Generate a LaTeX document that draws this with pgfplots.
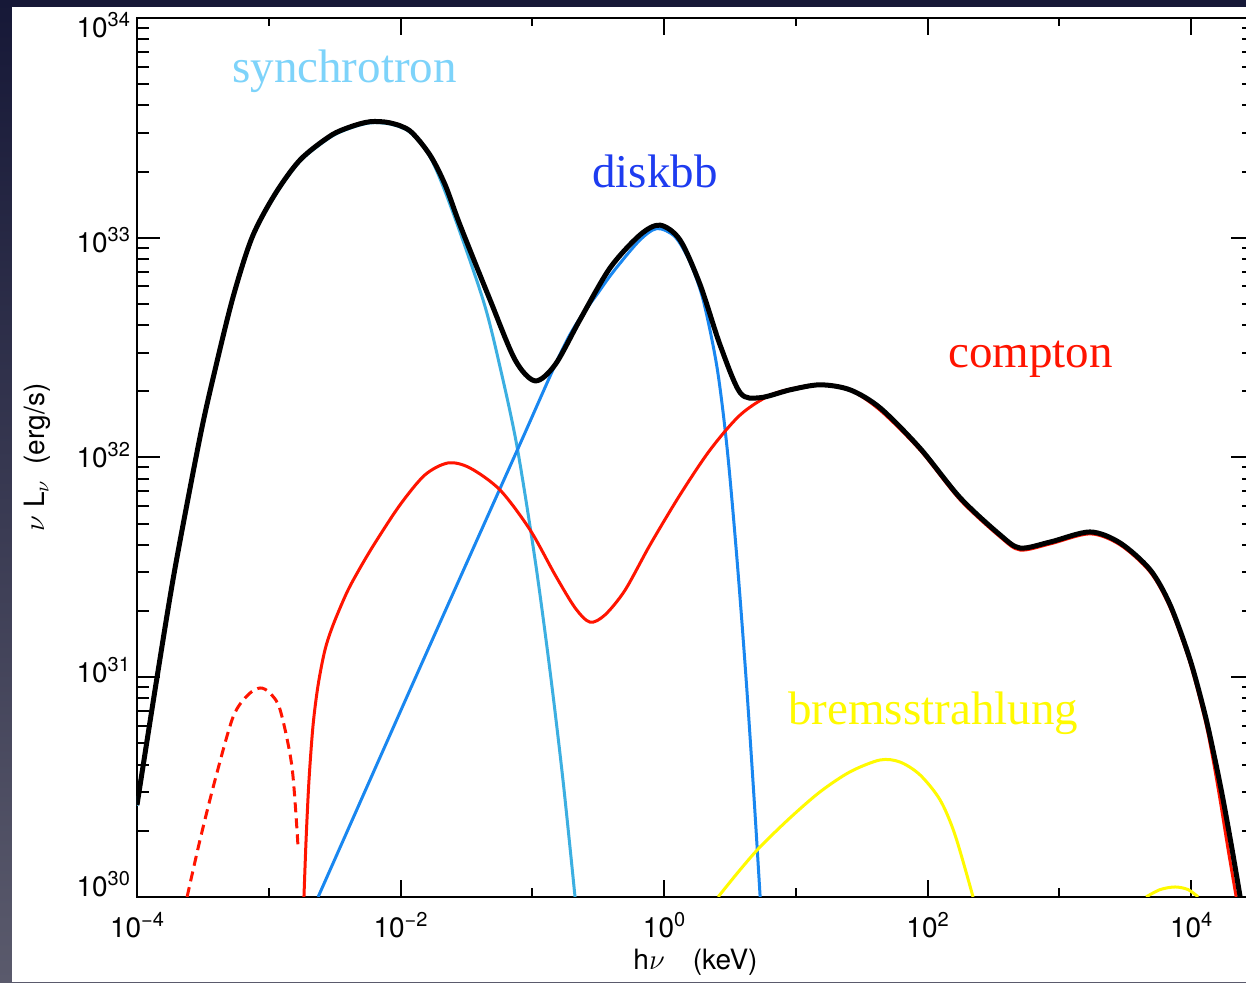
\documentclass[border=0pt]{standalone}
\usepackage{fontspec}
\setmainfont{TeX Gyre Heros}
\newfontfamily\timesf{Liberation Serif}
\usepackage{pgfplots}
\pgfplotsset{compat=1.18}
\definecolor{syncline}{RGB}{60,175,225}
\definecolor{synctext}{RGB}{125,211,250}
\definecolor{diskline}{RGB}{25,135,240}
\definecolor{disktext}{RGB}{30,60,240}
\definecolor{compred}{RGB}{255,20,0}
\definecolor{brem}{RGB}{255,250,0}
\definecolor{bgtop}{RGB}{22,24,55}
\definecolor{bgbot}{RGB}{90,90,108}
\newcommand{\tl}[1]{10\raisebox{5.5pt}{\fontsize{10}{10}\selectfont #1}}
\begin{document}
\begin{tikzpicture}
\useasboundingbox (-68.5pt,-42.5pt) rectangle (554.5pt,448.5pt);
\shade[top color=bgtop,bottom color=bgbot] (-68.5pt,-42.5pt) rectangle (554.5pt,448.5pt);
\fill[white] (-62.5pt,-42.5pt) rectangle (554.5pt,445pt);
\begin{axis}[
  at={(0,0)}, anchor=south west,
  scale only axis, width=558.5pt, height=439.5pt,
  xmode=log, ymode=log,
  xmin=1e-4, xmax=3e4, ymin=1e30, ymax=1e34,
  axis line style={line width=1pt},
  every tick/.style={black, line width=1pt},
  major tick length=11.5pt, minor tick length=6pt,
  every major x tick/.append style={/pgfplots/major tick length=8.5pt},
  every minor x tick/.append style={/pgfplots/minor tick length=4.25pt},
  xtick={1e-4,1e-2,1,1e2,1e4},
  xticklabels={\tl{−4},\tl{−2},\tl{0},\tl{2},\tl{4}},
  minor xtick={1e-3,1e-1,10,1e3},
  ytick={1e30,1e31,1e32,1e33,1e34},
  yticklabels={\tl{30},\raisebox{-2.5pt}{\tl{31}},\raisebox{-5pt}{\tl{32}},\raisebox{-7.5pt}{\tl{33}},\raisebox{-10pt}{\tl{34}}},
  tick label style={font=\fontsize{14}{16}\selectfont},
  xticklabel style={anchor=north, yshift=-4pt},
  yticklabel style={anchor=base east},
  xlabel={h$\nu$\quad(keV)},
  ylabel={$\nu$ L$_\nu$\ \ (erg/s)},
  every axis x label/.style={at={(axis description cs:0.5,-0.0739)}, anchor=center, font=\fontsize{14}{16}\selectfont},
  every axis y label/.style={at={(axis description cs:-0.0895,0.5)}, anchor=center, rotate=90, font=\fontsize{14}{16}\selectfont},
]
% synchrotron
\addplot[syncline, line width=1.5pt, smooth] coordinates {
(1.00e-4,2.60e30) (1.42e-4,9.9e30) (1.94e-4,3.08e31) (3.01e-4,1.22e32) (3.91e-4,2.47e32) (5.36e-4,5.32e32)
(7.46e-4,9.9e32) (1.11e-3,1.55e33) (1.73e-3,2.23e33) (2.92e-3,2.86e33) (4.14e-3,3.15e33) (5.86e-3,3.33e33)
(8.32e-3,3.29e33) (1.18e-2,3.02e33) (1.67e-2,2.34e33) (2.38e-2,1.41e33) (4.23e-2,5.21e32) (5.69e-2,2.58e32) (7.66e-2,1.12e32)
(1.05e-1,3.42e31) (1.36e-1,1.08e31) (1.71e-1,3.40e30) (2.11e-1,1.00e30)
};
% diskbb
\addplot[diskline, line width=1.5pt, smooth] coordinates {
(2.37e-3,1.00e30) (1.36e-2,1.06e31) (7.80e-2,1.10e32) (1.84e-1,3.43e32) (3.27e-1,5.78e32)
(4.40e-1,7.36e32) (6.58e-1,9.77e32) (8.85e-1,1.10e33) (1.21,1.01e33) (1.57,7.76e32)
(1.98,5.21e32) (2.52,2.58e32) (3.01,1.10e32) (3.58,3.42e31) (4.20,9.71e30) (4.83,2.76e30) (5.36,1.00e30)
};
% compton
\addplot[compred, line width=1.5pt, smooth] coordinates {
(1.85e-3,1.00e30) (1.92e-3,1.82e30) (2.02e-3,3.40e30) (2.17e-3,6.07e30) (2.37e-3,9.23e30) (2.67e-3,1.33e31)
(3.08e-3,1.73e31) (3.93e-3,2.44e31) (4.93e-3,3.14e31) (6.40e-3,4.08e31) (9.91e-3,6.08e31)
(1.53e-2,8.32e31) (2.30e-2,9.44e31) (3.37e-2,8.95e31)
(5.69e-2,7.11e31) (9.62e-2,4.68e31) (1.49e-1,2.92e31) (2.11e-1,2.07e31) (2.74e-1,1.78e31)
(3.56e-1,1.92e31) (5.06e-1,2.49e31) (7.83e-1,4.00e31) (1.32,6.75e31) (2.23,1.08e32)
(3.78,1.56e32) (6.38,1.92e32) (10.8,2.09e32) (16.7,2.14e32) (25.8,2.03e32)
(43.6,1.64e32) (87.7,1.08e32) (176.6,6.41e31) (354.8,4.35e31) (503.5,3.79e31)
(851,4.04e31) (1710,4.49e31) (2891,4.00e31) (4887,3.01e31) (6934,2.07e31)
(9817,1.16e31) (12770,6.38e30) (14690,4.20e30) (16600,2.76e30) (19100,1.64e30) (21980,1.00e30)
};
% compton (dashed, low-energy part)
\addplot[compred, line width=1.5pt, smooth, dash pattern=on 5pt off 3pt] coordinates {
(2.40e-4,1.00e30) (3.01e-4,1.82e30) (3.91e-4,3.40e30) (5.36e-4,6.59e30) (6.95e-4,8.30e30)
(8.59e-4,8.93e30) (1.02e-3,8.47e30) (1.22e-3,7.10e30) (1.50e-3,3.91e30) (1.67e-3,1.67e30)
};
% bremsstrahlung
\addplot[brem, line width=1.5pt, smooth] coordinates {
(2.57,1.00e30) (3.78,1.33e30) (5.36,1.69e30) (9.04,2.29e30) (15.3,3.01e30) (25.8,3.71e30)
(43.6,4.20e30) (61.8,4.11e30) (87.7,3.59e30) (124.5,2.76e30) (161.8,1.91e30) (221.3,1.00e30)
};
\addplot[brem, line width=1.5pt, smooth] coordinates {
(4550,1.00e30) (5820,1.08e30) (7570,1.11e30) (9480,1.08e30) (11300,1.00e30)
};
% total
\addplot[black, line width=2.5pt, smooth] coordinates {
(1.00e-4,2.62e30) (1.42e-4,1.00e31) (1.94e-4,3.11e31) (3.01e-4,1.24e32) (3.91e-4,2.50e32) (5.36e-4,5.37e32)
(7.46e-4,1.00e33) (1.11e-3,1.57e33) (1.73e-3,2.26e33) (2.92e-3,2.90e33) (4.14e-3,3.19e33) (5.86e-3,3.37e33)
(8.32e-3,3.33e33) (1.18e-2,3.06e33) (1.67e-2,2.38e33) (2.18e-2,1.74e33) (2.83e-2,1.14e33) (4.78e-2,5.21e32) (7.40e-2,2.78e32) (1.05e-1,2.23e32)
(1.49e-1,2.64e32) (2.30e-1,4.23e32) (3.89e-1,7.28e32) (6.58e-1,1.03e33) (9.33e-1,1.14e33)
(1.32,9.77e32) (1.88,6.10e32) (2.66,3.25e32) (3.78,1.97e32) (5.36,1.87e32) (9.04,2.03e32)
(15.28,2.14e32) (25.8,2.03e32) (43.6,1.68e32) (87.7,1.10e32) (176.6,6.55e31) (354.8,4.44e31)
(503.5,3.87e31) (851,4.12e31) (1710,4.58e31) (2891,4.08e31) (4887,3.08e31) (6934,2.13e31)
(9817,1.20e31) (12770,6.73e30) (15200,4.20e30) (17500,2.76e30) (20470,1.64e30) (23550,1.00e30)
};
\node[anchor=base west, inner sep=0, font=\timesf\fontsize{23.5}{28}\selectfont, text=synctext] at (rel axis cs:0.0850,0.9261) {synchrotron};
\node[anchor=base west, inner sep=0, font=\timesf\fontsize{23.5}{28}\selectfont, text=disktext] at (rel axis cs:0.4073,0.8066) {diskbb};
\node[anchor=base west, inner sep=0, font=\timesf\fontsize{23.5}{28}\selectfont, text=compred] at (rel axis cs:0.7260,0.6018) {compton};
\node[anchor=base west, inner sep=0, font=\timesf\fontsize{23.5}{28}\selectfont, text=brem] at (rel axis cs:0.5828,0.1957) {bremsstrahlung};
\end{axis}
\end{tikzpicture}
\end{document}
